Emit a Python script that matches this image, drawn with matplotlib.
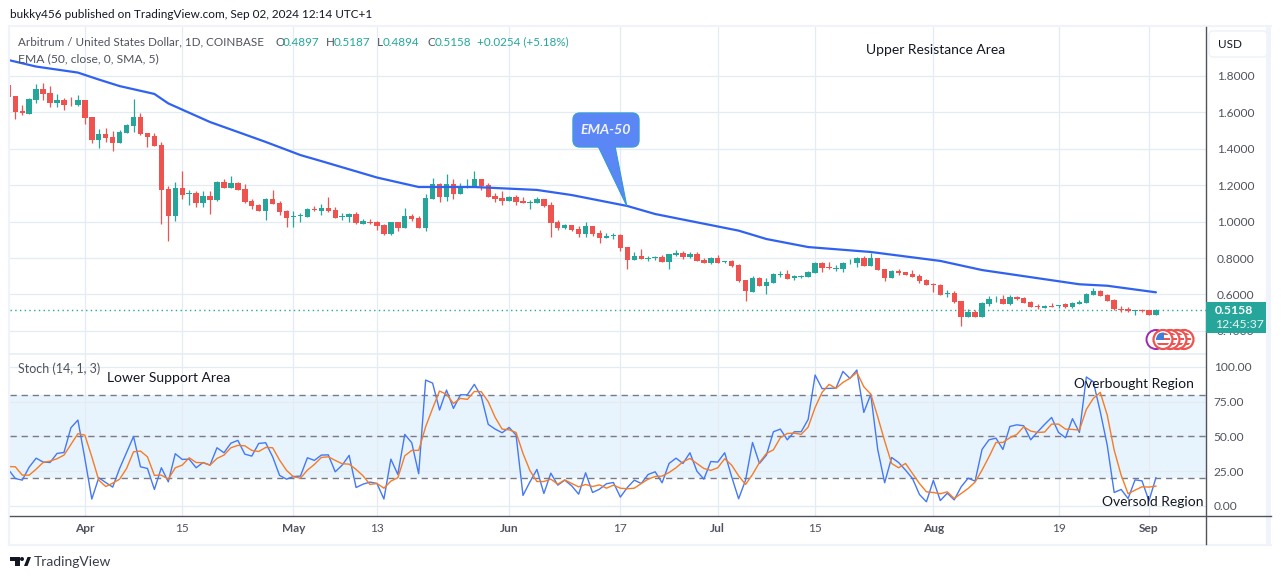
import matplotlib
matplotlib.use("Agg")
import matplotlib.pyplot as plt
import numpy as np
from matplotlib.patches import Circle, FancyBboxPatch, Polygon, Rectangle

plt.rcParams['font.family'] = ['Lato', 'DejaVu Sans']

W, H = 1281, 579

# ARB/USD daily candles
opens = [1.748,
    1.687, 1.605, 1.591, 1.667, 1.724, 1.702, 1.651, 1.665, 1.651, 1.638,
    1.665, 1.570, 1.446, 1.479, 1.463, 1.432, 1.486, 1.525, 1.572, 1.485,
    1.466, 1.419, 1.178, 1.032, 1.183, 1.152, 1.156, 1.103, 1.139, 1.117,
    1.216, 1.185, 1.211, 1.178, 1.112, 1.088, 1.059, 1.123, 1.101, 1.057,
    1.024, 1.032, 1.026, 1.068, 1.060, 1.074, 1.063, 1.027, 1.027, 1.041,
    .987, .997, .997, .981, .932, .997, .965, 1.030, 1.019, .965,
    1.124, 1.206, 1.134, 1.206, 1.151, 1.187, 1.187, 1.233, 1.200, 1.138,
    1.129, 1.113, 1.134, 1.113, 1.103, 1.102, 1.124, 1.089, .999, .965,
    .981, .959, .932, .976, .937, .910, .921, .926, .860, .789,
    .811, .795, .800, .806, .778, .817, .828, .806, .822, .789,
    .773, .800, .778, .784, .762, .680, .614, .691, .647, .663,
    .707, .713, .691, .696, .696, .718, .773, .751, .740, .740,
    .776, .773, .800, .756, .800, .740, .691, .729, .723, .713,
    .702, .680, .658, .654, .603, .606, .566, .478, .504, .478,
    .548, .573, .575, .548, .586, .581, .559, .537, .528, .537,
    .537, .546, .531, .550, .553, .597, .619, .597, .570, .521,
    .521, .510, .515, .513, .4897]
highs = [1.748,
    1.687, 1.638, 1.675, 1.753, 1.757, 1.742, 1.698, 1.675, 1.680, 1.691,
    1.665, 1.570, 1.507, 1.510, 1.497, 1.501, 1.534, 1.671, 1.592, 1.486,
    1.483, 1.437, 1.194, 1.218, 1.276, 1.172, 1.169, 1.165, 1.165, 1.222,
    1.231, 1.249, 1.218, 1.205, 1.123, 1.096, 1.128, 1.172, 1.110, 1.065,
    1.057, 1.044, 1.074, 1.085, 1.096, 1.133, 1.080, 1.045, 1.045, 1.050,
    1.012, 1.012, 1.003, .985, .999, .997, 1.074, 1.040, 1.030, 1.151,
    1.239, 1.209, 1.261, 1.233, 1.209, 1.233, 1.277, 1.233, 1.209, 1.156,
    1.167, 1.140, 1.145, 1.136, 1.118, 1.136, 1.124, 1.109, 1.007, .987,
    .981, .976, .997, .976, .952, .935, .937, .932, .860, .831,
    .850, .811, .811, .815, .822, .844, .839, .833, .833, .800,
    .806, .817, .786, .789, .765, .680, .702, .694, .689, .718,
    .729, .734, .707, .707, .729, .778, .778, .778, .762, .778,
    .795, .806, .811, .828, .800, .740, .734, .738, .723, .734,
    .713, .685, .661, .657, .625, .617, .566, .519, .515, .559,
    .592, .592, .597, .597, .594, .586, .564, .548, .542, .552,
    .544, .552, .557, .570, .608, .634, .625, .603, .575, .535,
    .531, .515, .521, .515, .5187]
lows = [1.684,
    1.561, 1.583, 1.589, 1.651, 1.665, 1.627, 1.627, 1.611, 1.633, 1.633,
    1.534, 1.428, 1.404, 1.437, 1.388, 1.432, 1.483, 1.492, 1.474, 1.410,
    1.415, .986, .895, 1.004, 1.123, 1.090, 1.081, 1.081, 1.041, 1.110,
    1.181, 1.185, 1.172, 1.103, 1.070, 1.055, 1.010, 1.096, 1.037, .971,
    .971, .999, 1.023, 1.057, 1.036, 1.052, 1.019, 1.008, .999, .988,
    .987, .987, .954, .926, .926, .950, .965, 1.005, .965, .950,
    1.124, 1.109, 1.113, 1.124, 1.151, 1.182, 1.187, 1.173, 1.134, 1.109,
    1.091, 1.113, 1.091, 1.102, 1.069, 1.100, 1.078, .915, .954, .959,
    .948, .915, .915, .921, .882, .910, .903, .839, .740, .789,
    .795, .786, .791, .778, .740, .811, .795, .800, .784, .773,
    .769, .773, .775, .751, .669, .565, .614, .647, .603, .663,
    .694, .685, .680, .691, .696, .718, .723, .740, .729, .723,
    .767, .751, .756, .756, .734, .674, .691, .707, .707, .696,
    .663, .652, .614, .595, .588, .555, .429, .478, .478, .478,
    .537, .561, .548, .544, .570, .553, .531, .522, .526, .531,
    .524, .526, .526, .548, .552, .597, .592, .564, .515, .504,
    .504, .488, .504, .489, .4894]
closes = [1.684,
    1.600, 1.596, 1.671, 1.724, 1.700, 1.651, 1.665, 1.638, 1.647, 1.665,
    1.569, 1.446, 1.479, 1.459, 1.432, 1.490, 1.528, 1.572, 1.479, 1.465,
    1.415, 1.174, 1.032, 1.183, 1.147, 1.156, 1.101, 1.139, 1.117, 1.218,
    1.185, 1.211, 1.172, 1.108, 1.086, 1.059, 1.123, 1.097, 1.054, 1.021,
    1.030, 1.035, 1.066, 1.063, 1.074, 1.058, 1.019, 1.032, 1.041, .992,
    1.003, .994, .976, .932, .997, .965, 1.030, 1.016, .965, 1.129,
    1.206, 1.134, 1.206, 1.151, 1.195, 1.191, 1.233, 1.195, 1.134, 1.124,
    1.113, 1.134, 1.107, 1.103, 1.107, 1.124, 1.085, .992, .965, .981,
    .954, .932, .976, .932, .910, .921, .926, .855, .789, .811,
    .795, .798, .804, .778, .822, .828, .806, .822, .784, .773,
    .800, .773, .784, .756, .674, .619, .691, .647, .669, .713,
    .713, .685, .702, .702, .723, .773, .745, .745, .745, .773,
    .780, .800, .756, .800, .734, .691, .729, .718, .707, .696,
    .674, .652, .654, .597, .606, .559, .478, .504, .478, .553,
    .575, .577, .548, .586, .575, .553, .531, .531, .535, .531,
    .542, .531, .553, .561, .603, .619, .594, .566, .519, .515,
    .510, .515, .510, .490, .5158]

# EMA 50, sampled at the bars where it bends
ema_bars = [0, 4, 10, 13, 16, 21, 23, 29, 34, 37, 42, 45, 53, 59, 67, 76, 81, 89,
            93, 105, 109, 115, 124, 134, 140, 154, 158, 165]
ema_vals = [1.885, 1.849, 1.816, 1.778, 1.742, 1.699, 1.647, 1.545, 1.477, 1.436,
            1.364, 1.331, 1.241, 1.189, 1.189, 1.173, 1.145, 1.085, 1.041, .950,
            .904, .860, .833, .784, .734, .656, .648, .612]

# Stochastic %K and %D, one value per bar
stoch_k = [26.3,
    19.8, 18.6, 28.0, 34.4, 31.6, 31.3, 37.8, 38.5, 56.3, 61.8,
    34.2, 5.0, 20.3, 16.9, 13.6, 27.0, 38.5, 50.0, 28.2, 27.0,
    11.9, 27.5, 17.4, 37.6, 33.5, 33.7, 27.5, 31.3, 29.4, 41.9,
    38.3, 45.2, 47.2, 37.3, 35.9, 45.0, 45.5, 35.4, 22.0, 19.3,
    21.2, 21.5, 34.7, 32.8, 36.6, 36.8, 24.6, 29.4, 36.4, 13.3,
    15.7, 17.2, 16.2, 5.0, 33.7, 22.7, 51.5, 45.5, 23.2, 90.6,
    88.4, 69.0, 83.4, 70.2, 80.0, 80.0, 87.5, 78.8, 58.7, 55.3,
    52.7, 56.5, 51.0, 7.6, 17.4, 26.3, 9.0, 23.6, 15.0, 18.6,
    14.5, 8.5, 23.9, 9.7, 12.1, 16.0, 16.9, 6.4, 13.3, 18.6,
    16.2, 22.7, 24.6, 16.7, 30.6, 34.4, 30.6, 38.3, 25.1, 19.3,
    32.0, 31.6, 38.3, 21.0, 5.2, 18.6, 45.7, 30.6, 36.6, 53.4,
    55.3, 47.6, 53.4, 53.4, 62.3, 94.2, 84.4, 84.6, 84.8, 96.8,
    91.8, 97.8, 67.3, 80.3, 40.7, 16.7, 34.9, 31.3, 25.8, 19.8,
    8.3, 3.0, 18.4, 3.9, 9.2, 4.4, 13.8, 20.0, 17.9, 40.7,
    47.6, 48.8, 40.7, 57.2, 58.4, 57.7, 47.6, 53.4, 58.7, 63.7,
    52.9, 49.1, 62.8, 52.9, 92.8, 89.4, 67.8, 43.8, 9.7, 11.9,
    5.4, 18.8, 18.1, 3.7, 20.3]
stoch_d = [28.4,
    28.2, 22.2, 22.2, 26.5, 31.3, 32.3, 34.0, 36.6, 44.3, 52.0,
    51.0, 35.4, 18.6, 14.0, 16.4, 19.3, 27.0, 39.0, 39.5, 35.4,
    22.0, 22.2, 19.3, 27.5, 29.4, 34.7, 31.3, 31.1, 29.4, 34.2,
    36.6, 41.9, 43.6, 43.3, 40.0, 39.2, 42.1, 41.9, 33.0, 25.6,
    21.0, 20.0, 25.8, 29.9, 34.9, 35.4, 32.8, 30.4, 30.1, 26.3,
    21.7, 15.5, 16.2, 12.8, 17.9, 20.3, 36.1, 40.0, 40.0, 57.0,
    70.2, 82.7, 80.3, 73.8, 77.4, 76.7, 82.4, 82.2, 75.0, 63.7,
    55.3, 54.8, 52.9, 37.8, 25.4, 17.6, 17.6, 19.3, 15.7, 18.8,
    16.2, 13.8, 15.5, 14.0, 15.2, 12.8, 15.0, 12.8, 12.4, 12.8,
    16.2, 19.3, 21.2, 21.5, 24.1, 27.5, 31.8, 34.2, 30.6, 27.0,
    25.6, 27.5, 34.0, 29.4, 21.7, 15.5, 22.7, 31.3, 37.8, 40.4,
    49.1, 52.2, 52.4, 51.5, 56.8, 70.9, 81.7, 87.5, 84.6, 88.9,
    91.8, 96.1, 85.8, 80.5, 64.2, 46.7, 30.6, 27.5, 30.6, 23.4,
    16.2, 10.2, 9.7, 8.8, 10.2, 5.4, 9.0, 12.6, 17.2, 25.8,
    35.4, 45.7, 45.7, 49.1, 51.5, 57.0, 53.9, 52.9, 53.2, 58.9,
    58.9, 55.3, 55.1, 54.6, 69.5, 77.4, 81.7, 65.4, 40.2, 22.2,
    8.8, 11.4, 13.8, 13.6, 14.3]

# bar number of each date label on the time axis
time_bars = [11, 25, 41, 53, 72, 88, 102, 116, 133, 151, 164]
time_labels = ['Apr', '15', 'May', '13', 'Jun', '17', 'Jul', '15', 'Aug', '19', 'Sep']
month_labels = ['Apr', 'May', 'Jun', 'Jul', 'Aug', 'Sep']

price_ticks = [0.4, 0.6, 0.8, 1.0, 1.2, 1.4, 1.6, 1.8]
stoch_ticks = [0, 25, 50, 75, 100]
last_close = closes[-1]

UP, DOWN = '#26a69a', '#ef5350'
GRID = '#e4ecf3'
TEXT = '#50535e'
AXIS = '#50535e'
PALE = '#f0f3fa'
TICK_SIZE = 8.6
LEGEND_SIZE = 8.4


def pane(left, top, right, bottom):
    return [left / W, 1 - bottom / H, (right - left) / W, (bottom - top) / H]


fig = plt.figure(figsize=(W / 100, H / 100), dpi=100)
ax = fig.add_axes(pane(10, 27, 1205.5, 353.5))
ax2 = fig.add_axes(pane(10, 353.5, 1205.5, 516), sharex=ax)

bars = np.arange(len(closes))
o, h, l, c = map(np.array, (opens, highs, lows, closes))
colors = np.where(c >= o, UP, DOWN)

# Price pane
ax.vlines(bars, l, h, colors=colors, lw=0.9, zorder=3)
ax.bar(bars, np.abs(c - o).clip(0.003), bottom=np.minimum(o, c), width=0.78,
       color=colors, linewidth=0, zorder=4)
ax.plot(ema_bars, ema_vals, color='#2f62f0', lw=1.6, zorder=5, solid_capstyle='round')
ax.axhline(last_close, color=UP, lw=1, ls=(0, (1, 2.4)), zorder=2)
ax.set_xlim(0.238, 172.13)
ax.set_ylim(0.2767, 2.0658)
ax.set_yticks(price_ticks)
ax.set_yticklabels([f'{t:.4f}' for t in price_ticks])
ax.yaxis.tick_right()
ax.tick_params(axis='y', length=0, pad=8, labelsize=TICK_SIZE, labelcolor=TEXT)
ax.tick_params(axis='x', length=0, labelbottom=False)

# Stochastic pane
ax2.axhspan(20, 80, color='#e8f4fd', lw=0, zorder=0)
for lvl in (80, 50, 20):
    ax2.axhline(lvl, color='#787b86', lw=1, ls=(0, (4.5, 3.5)), zorder=2)
ax2.plot(bars, stoch_k, color='#4478f5', lw=1.0, zorder=4)
ax2.plot(bars, stoch_d, color='#f57c26', lw=1.0, zorder=5)
ax2.set_ylim(-7.2, 109.7)
ax2.set_yticks(stoch_ticks)
ax2.set_yticklabels([f'{t:.2f}' for t in stoch_ticks])
ax2.yaxis.tick_right()
ax2.tick_params(axis='y', length=0, pad=6, labelsize=TICK_SIZE, labelcolor=TEXT)
ax2.set_xticks(time_bars)
ax2.set_xticklabels(time_labels)
ax2.tick_params(axis='x', length=0, pad=5, labelsize=TICK_SIZE, labelcolor=TEXT)
for t in ax2.get_xticklabels():
    if t.get_text() in month_labels:
        t.set_fontweight('bold')

for a in (ax, ax2):
    a.grid(True, color=GRID, lw=0.9, zorder=1)
    a.set_axisbelow(True)
    for s in a.spines.values():
        s.set_visible(False)

# Everything else is placed in picture pixels
ov = fig.add_axes([0, 0, 1, 1])
ov.set_xlim(0, W)
ov.set_ylim(H, 0)
ov.axis('off')

# chart frame and axis lines
ov.add_patch(Rectangle((1266, 25), 5, 520, color=PALE, lw=0))
ov.plot([9, 1271], [26, 26], color=PALE, lw=1.5)
ov.plot([9, 1271], [544.5, 544.5], color=PALE, lw=1.5)
ov.plot([9, 9], [26, 545], color=PALE, lw=1.5)
ov.plot([10, 1205.5], [353.5, 353.5], color=GRID, lw=1.1)
ov.plot([10, 1271], [516.3, 516.3], color=AXIS, lw=1)
ov.plot([1205.6, 1205.6], [27, 544], color=AXIS, lw=1)

# header and legend text
ov.text(10, 14.5, 'bukky456 published on TradingView.com, Sep 02, 2024 12:14 UTC+1',
        fontsize=8.5, color='#131722', va='center')
ov.text(18, 42, 'Arbitrum / United States Dollar, 1D, COINBASE', fontsize=LEGEND_SIZE,
        color=TEXT, va='center')
for x, s, col in [(275, 'O', TEXT), (283, '0.4897', UP), (326, 'H', TEXT), (334, '0.5187', UP),
                  (377, 'L', TEXT), (383, '0.4894', UP), (427, 'C', TEXT), (435, '0.5158', UP),
                  (477, '+0.0254 (+5.18%)', UP)]:
    ov.text(x, 42, s, fontsize=LEGEND_SIZE, color=col, va='center')
ov.text(18, 59, 'EMA (50, close, 0, SMA, 5)', fontsize=8.7, color=TEXT, va='center')
ov.text(18, 369, 'Stoch (14, 1, 3)', fontsize=9, color=TEXT, va='center')

# drawing labels
for x, y, s in [(866, 49.5, 'Upper Resistance Area'), (107, 377.5, 'Lower Support Area'),
                (1074, 384.5, 'Overbought Region'), (1102, 502.5, 'Oversold Region')]:
    ov.text(x, y, s, fontsize=10, color='#131722', va='center', zorder=8)

# EMA-50 callout
ov.add_patch(Polygon([(598, 146), (615, 146), (626.8, 206)], closed=True, fc='#5b86f5',
                     ec='#2e9bd6', lw=0.8, zorder=6))
ov.add_patch(FancyBboxPatch((578, 118), 56, 24, boxstyle='round,pad=5,rounding_size=7',
                            fc='#5b86f5', ec='#3f9bdc', lw=1, zorder=7))
ov.plot([599, 614], [146.6, 146.6], color='#5b86f5', lw=1.6, zorder=8)
ov.text(606, 129.5, 'EMA-50', fontsize=10.2, style='italic', fontweight='bold', color='#f0f3fa',
        ha='center', va='center', zorder=9)

# price scale: currency box and last price tag
ov.add_patch(FancyBboxPatch((1212, 34), 52, 20, boxstyle='round,pad=3,rounding_size=4',
                            fc='white', ec=PALE, lw=1.2, zorder=6))
ov.text(1218, 44.5, 'USD', fontsize=8.4, color='#131722', va='center', zorder=7)
ov.add_patch(Rectangle((1206, 302), 60, 30.5, fc=UP, ec='none', zorder=6))
ov.text(1215, 311, f'{last_close:.4f}', fontsize=8.8, fontweight='bold', color='white',
        va='center', zorder=7)
ov.text(1215, 324.5, '12:45:37', fontsize=8.8, color='#e8f5f3', va='center', zorder=7)

# economic event badges
ov.add_patch(Circle((1156, 339.5), 9.5, fc='white', ec='#9c27b0', lw=1.4, zorder=6))
for i, cx in enumerate((1184, 1177, 1170, 1163)):
    ov.add_patch(Circle((cx, 339.5), 9.5, fc='white', ec=DOWN, lw=1.6, zorder=6 + i * 0.1))
    disc = Circle((cx, 339.5), 7, fc='white', ec='none', zorder=6.05 + i * 0.1)
    ov.add_patch(disc)
    for sy, sh in ((332.5, 2.5), (337.5, 2.5), (342.5, 2.5)):
        r = Rectangle((cx - 8, sy), 16, sh, fc=DOWN, ec='none', zorder=6.06 + i * 0.1)
        ov.add_patch(r)
        r.set_clip_path(disc)
canton = Rectangle((1155, 332), 9, 7.5, fc='#3d7fd9', ec='none', zorder=6.5)
ov.add_patch(canton)
canton.set_clip_path(Circle((1163, 339.5), 7, transform=ov.transData))

# TradingView mark
ov.add_patch(Polygon([(10, 557), (20, 557), (20, 566), (15, 566), (15, 561), (10, 561)],
                     closed=True, fc='#131722', ec='none'))
ov.add_patch(Circle((22, 559), 2, fc='#131722', ec='none'))
ov.add_patch(Polygon([(24, 566), (27.5, 557), (31, 557), (27.5, 566)], closed=True,
                     fc='#131722', ec='none'))
ov.text(34, 561.5, 'TradingView', fontsize=10, color='#3a3e4a', va='center')

fig.savefig('out.png', dpi=100)
